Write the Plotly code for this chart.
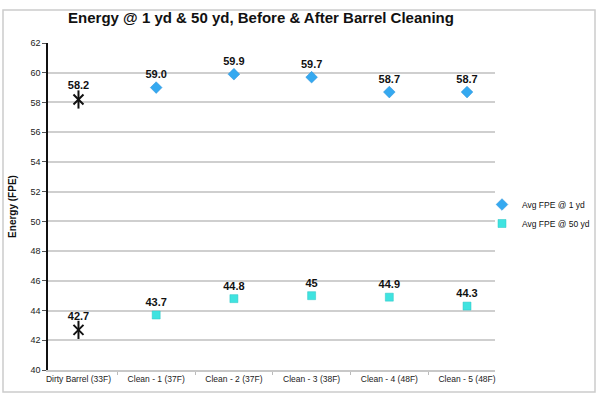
import plotly.graph_objects as go

categories = ["Dirty Barrel (33F)", "Clean - 1 (37F)", "Clean - 2 (37F)", "Clean - 3 (38F)",
              "Clean - 4 (48F)", "Clean - 5 (48F)"]
dirty_cat = ["Dirty Barrel (33F)"]
dirty_1yd = [58.2]
dirty_50yd = [42.7]
clean_cats = categories[1:]
fpe_1yd = [59.0, 59.9, 59.7, 58.7, 58.7]
fpe_1yd_labels = ["59.0", "59.9", "59.7", "58.7", "58.7"]
fpe_50yd = [43.7, 44.8, 45, 44.9, 44.3]
fpe_50yd_labels = ["43.7", "44.8", "45", "44.9", "44.3"]
y_ticks = list(range(40, 63, 2))

W, H = 600, 397
L, R, T, B = 48, 495, 43, 370

def px(x):
    return (x - L) / (R - L)

def py(y):
    return (B - y) / (B - T)

label_font = dict(family="Liberation Sans", size=11, color="#111111")

fig = go.Figure()

fig.add_trace(go.Scatter(
    x=clean_cats, y=fpe_1yd, mode="markers+text", name="Avg FPE @ 1 yd",
    text=fpe_1yd_labels, textposition="top center", textfont=label_font,
    texttemplate="<b>%{text}</b>",
    marker=dict(symbol="diamond", size=9, color="#35a9f0", line=dict(color="#2a8fd6", width=0.5)),
))
fig.add_trace(go.Scatter(
    x=clean_cats, y=fpe_50yd, mode="markers+text", name="Avg FPE @ 50 yd",
    text=fpe_50yd_labels, textposition="top center", textfont=label_font,
    texttemplate="<b>%{text}</b>",
    marker=dict(symbol="square", size=8, color="#3fe3e0", line=dict(color="#2cc4c4", width=0.5)),
))
for vals in (dirty_1yd, dirty_50yd):
    fig.add_trace(go.Scatter(
        x=dirty_cat, y=vals, mode="markers+text", showlegend=False,
        text=[f"{v}" for v in vals], textposition="top center", textfont=label_font,
        texttemplate="<b>%{text}</b>",
        marker=dict(symbol="x-thin-open", size=10, color="#111111", line=dict(color="#111111", width=2)),
    ))
    fig.add_trace(go.Scatter(
        x=dirty_cat, y=vals, mode="markers", showlegend=False, hoverinfo="skip",
        marker=dict(symbol="line-ns-open", size=13, color="#111111", line=dict(color="#111111", width=2)),
    ))

fig.update_layout(
    width=W, height=H,
    margin=dict(l=L, r=W - R, t=T, b=H - B, autoexpand=False),
    paper_bgcolor="white", plot_bgcolor="white",
    font=dict(family="Liberation Sans", size=9, color="#222222"),
    title=dict(text="<b>Energy @ 1 yd & 50 yd, Before & After Barrel Cleaning</b>",
               x=261 / W, xanchor="center", y=1 - 18 / H, yanchor="middle",
               font=dict(family="Liberation Sans", size=15, color="#111111")),
    legend=dict(x=px(482), y=py(190), xanchor="left", yanchor="top",
                font=dict(family="Liberation Sans", size=8.5, color="#111111"),
                itemsizing="trace", tracegroupgap=0, itemwidth=30,
                bgcolor="rgba(0,0,0,0)"),
    showlegend=True,
)
fig.update_xaxes(
    type="category", categoryorder="array", categoryarray=categories,
    tickson="boundaries", ticks="outside", ticklen=3, tickcolor="#bbbbbb",
    tickangle=0,
    showline=True, linecolor="#c8c8c8", linewidth=1.5,
    showgrid=False, tickfont=dict(size=8.5, color="#222222"),
)
fig.update_yaxes(
    range=[40, 62], tickvals=y_ticks, ticks="outside", ticklen=4, tickcolor="#555555",
    showline=True, linecolor="#111111", linewidth=1.5,
    showgrid=True, gridcolor="#cfcfcf", gridwidth=1.5, zeroline=False,
    tickfont=dict(size=9, color="#222222"),
    title=dict(text="<b>Energy (FPE)</b>", font=dict(size=10, color="#111111"), standoff=12),
)
fig.add_shape(type="rect", xref="paper", yref="paper",
              x0=px(3), x1=px(595), y0=py(392), y1=py(10),
              line=dict(color="#cccccc", width=1.5), layer="below")

fig.write_html("out.html", config={"displayModeBar": False},
               post_script="document.body.style.margin='0';document.body.style.overflow='hidden';")
